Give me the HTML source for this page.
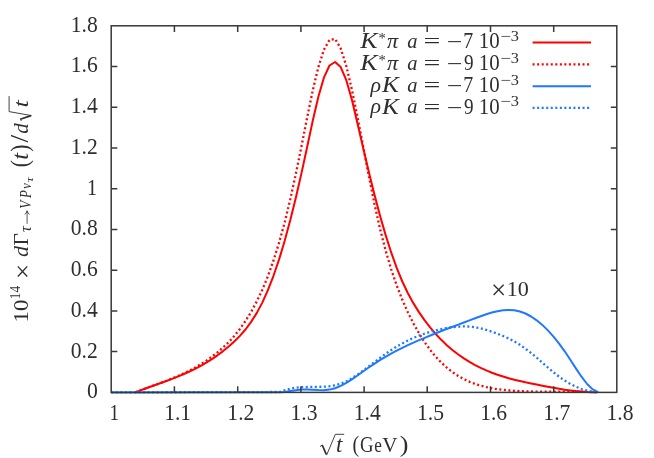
<!DOCTYPE html>
<html><head><meta charset="utf-8"><title>plot</title>
<style>html,body{margin:0;padding:0;background:#fff;}svg{display:block;}text{font-family:"Liberation Serif",serif;fill:#2e2e2e;}.i{font-style:italic;}</style></head><body>
<svg width="654" height="458" viewBox="0 0 654 458" style="will-change:transform">
<rect x="0" y="0" width="654" height="458" fill="#ffffff"/>
<g fill="none" stroke-linejoin="round">
<path d="M135.4,392.3 L139.1,390.9 L144.7,388.8 L150.3,386.7 L155.9,384.7 L161.5,382.7 L167.1,380.7 L172.7,378.6 L178.3,376.4 L183.9,374.0 L189.5,371.5 L195.1,368.8 L200.7,365.9 L206.3,362.7 L211.9,359.1 L217.5,355.3 L223.1,351.1 L228.7,346.5 L234.3,341.5 L239.9,335.9 L245.5,329.5 L251.1,321.9 L256.7,313.1 L262.3,302.6 L267.9,290.2 L273.5,275.8 L279.1,259.4 L284.7,240.7 L290.3,220.1 L295.9,197.5 L301.5,173.1 L307.1,147.3 L312.7,121.0 L318.3,97.0 L323.9,77.7 L329.5,65.5 L335.1,62.0 L340.7,67.1 L346.3,80.2 L351.9,99.8 L357.5,123.4 L363.1,147.8 L368.7,171.6 L374.3,194.1 L379.9,215.2 L385.5,234.6 L391.1,252.2 L396.7,267.9 L402.3,281.5 L407.9,293.2 L413.5,303.4 L419.1,312.4 L424.7,320.4 L430.3,327.6 L435.9,334.2 L441.5,340.1 L447.1,345.4 L452.7,350.2 L458.3,354.5 L463.9,358.4 L469.5,361.9 L475.1,365.1 L480.7,367.9 L486.3,370.4 L491.9,372.7 L497.5,374.7 L503.1,376.5 L508.7,378.2 L514.3,379.7 L519.9,381.0 L525.5,382.3 L531.1,383.4 L536.7,384.6 L542.3,385.7 L547.9,386.8 L553.5,387.8 L559.1,388.8 L564.7,389.7 L570.3,390.4 L575.9,391.1 L581.5,391.6 L587.1,392.0 L592.7,392.2 L597.4,392.2" stroke="#ff0000" stroke-width="2"/>
<path d="M135.4,392.3 L139.1,390.9 L144.7,388.8 L150.3,386.7 L155.9,384.7 L161.5,382.6 L167.1,380.5 L172.7,378.2 L178.3,375.9 L183.9,373.3 L189.5,370.6 L195.1,367.6 L200.7,364.3 L206.3,360.6 L211.9,356.7 L217.5,352.3 L223.1,347.5 L228.7,342.1 L234.3,335.9 L239.9,329.0 L245.5,321.0 L251.1,312.0 L256.7,301.6 L262.3,289.8 L267.9,276.2 L273.5,260.5 L279.1,242.7 L284.7,222.3 L290.3,199.2 L295.9,173.6 L301.5,146.2 L307.1,117.8 L312.7,90.7 L318.3,67.3 L323.9,49.8 L329.5,39.9 L335.1,39.0 L340.7,48.3 L346.3,66.0 L351.9,89.7 L357.5,117.0 L363.1,146.1 L368.7,175.3 L374.3,203.2 L379.9,228.3 L385.5,250.1 L391.1,269.1 L396.7,285.5 L402.3,299.8 L407.9,312.4 L413.5,323.5 L419.1,333.5 L424.7,342.3 L430.3,350.1 L435.9,356.9 L441.5,362.8 L447.1,367.9 L452.7,372.3 L458.3,376.0 L463.9,379.1 L469.5,381.8 L475.1,383.9 L480.7,385.7 L486.3,387.1 L491.9,388.3 L497.5,389.2 L503.1,389.8 L508.7,390.4 L514.3,390.8 L519.9,391.1 L525.5,391.4 L531.1,391.5 L536.7,391.6 L542.3,391.7 L547.9,391.7 L553.5,391.7 L559.1,391.7 L564.7,391.7 L570.3,391.7 L575.9,391.7 L581.5,391.8 L587.1,391.9 L592.7,392.0 L597.0,392.2" stroke="#ff0000" stroke-width="2.3" stroke-dasharray="2.0 2.54"/>
<path d="M111.2,392.4 L280.2,392.2 L284.7,391.9 L290.3,391.1 L295.9,390.3 L301.5,389.6 L307.1,389.5 L312.7,389.7 L318.3,390.1 L323.9,390.2 L329.5,389.6 L335.1,388.2 L340.7,385.9 L346.3,382.9 L351.9,379.3 L357.5,375.5 L363.1,371.5 L368.7,367.5 L374.3,363.8 L379.9,360.2 L385.5,356.9 L391.1,353.7 L396.7,350.7 L402.3,347.9 L407.9,345.2 L413.5,342.6 L419.1,340.2 L424.7,337.8 L430.3,335.5 L435.9,333.2 L441.5,331.0 L447.1,328.8 L452.7,326.7 L458.3,324.6 L463.9,322.5 L469.5,320.4 L475.1,318.3 L480.7,316.2 L486.3,314.2 L491.9,312.5 L497.5,311.2 L503.1,310.3 L508.7,309.9 L514.3,310.3 L519.9,311.5 L525.5,313.5 L531.1,316.5 L536.7,320.3 L542.3,324.9 L547.9,330.4 L553.5,336.6 L559.1,343.6 L564.7,351.3 L570.3,359.7 L575.9,368.4 L581.5,376.7 L587.1,384.0 L592.7,389.4 L598.2,392.2" stroke="#1f78ff" stroke-width="2"/>
<path d="M111.2,392.4 L280.2,392.0 L284.7,390.2 L290.3,388.7 L295.9,387.7 L301.5,387.2 L307.1,387.0 L312.7,386.9 L318.3,386.8 L323.9,386.7 L329.5,386.2 L335.1,385.3 L340.7,383.8 L346.3,381.4 L351.9,378.3 L357.5,374.6 L363.1,370.6 L368.7,366.4 L374.3,362.2 L379.9,358.0 L385.5,353.9 L391.1,350.1 L396.7,346.6 L402.3,343.4 L407.9,340.5 L413.5,337.9 L419.1,335.6 L424.7,333.6 L430.3,331.8 L435.9,330.3 L441.5,329.0 L447.1,327.9 L452.7,327.1 L458.3,326.6 L463.9,326.4 L469.5,326.6 L475.1,327.3 L480.7,328.4 L486.3,329.9 L491.9,331.7 L497.5,333.7 L503.1,336.0 L508.7,338.5 L514.3,341.4 L519.9,344.8 L525.5,348.7 L531.1,353.0 L536.7,357.7 L542.3,362.6 L547.9,367.5 L553.5,372.3 L559.1,376.7 L564.7,380.6 L570.3,383.9 L575.9,386.7 L581.5,389.0 L587.1,390.7 L592.7,391.8 L597.4,392.2" stroke="#1f78ff" stroke-width="2.3" stroke-dasharray="2.0 2.54"/>
<path d="M532.6,42.50 H591.0" stroke="#ff0000" stroke-width="2"/>
<path d="M532.6,64.35 H591.0" stroke="#ff0000" stroke-width="2.3" stroke-dasharray="2.0 2.54"/>
<path d="M532.6,86.35 H591.0" stroke="#1f78ff" stroke-width="2"/>
<path d="M532.6,107.90 H591.0" stroke="#1f78ff" stroke-width="2.3" stroke-dasharray="2.0 2.54"/>
</g>
<g fill="none" stroke="#383838" stroke-width="1.5">
<rect x="111.2" y="25.8" width="505.6" height="366.6"/>
<path d="M174.4,392.4 v-6.1 M174.4,25.8 v6.1 M237.7,392.4 v-6.1 M237.7,25.8 v6.1 M300.9,392.4 v-6.1 M300.9,25.8 v6.1 M364.1,392.4 v-6.1 M364.1,25.8 v6.1 M427.2,392.4 v-6.1 M427.2,25.8 v6.1 M490.5,392.4 v-6.1 M490.5,25.8 v6.1 M553.7,392.4 v-6.1 M553.7,25.8 v6.1 M111.2,351.6 h6.1 M616.9,351.6 h-6.1 M111.2,310.9 h6.1 M616.9,310.9 h-6.1 M111.2,270.2 h6.1 M616.9,270.2 h-6.1 M111.2,229.4 h6.1 M616.9,229.4 h-6.1 M111.2,188.7 h6.1 M616.9,188.7 h-6.1 M111.2,148.0 h6.1 M616.9,148.0 h-6.1 M111.2,107.3 h6.1 M616.9,107.3 h-6.1 M111.2,66.5 h6.1 M616.9,66.5 h-6.1"/>
</g>
<g>
<text transform="translate(86.92,398.25) scale(1.005,1.047)" font-size="21.6">0</text>
<text transform="translate(70.73,357.52) scale(1.000,1.047)" font-size="21.6">0.2</text>
<text transform="translate(70.73,316.79) scale(1.000,1.047)" font-size="21.6">0.4</text>
<text transform="translate(70.73,276.07) scale(1.000,1.047)" font-size="21.6">0.6</text>
<text transform="translate(70.73,235.34) scale(1.000,1.047)" font-size="21.6">0.8</text>
<text transform="translate(87.12,194.61) scale(0.938,1.027)" font-size="21.6">1</text>
<text transform="translate(70.71,153.88) scale(1.000,1.047)" font-size="21.6">1.2</text>
<text transform="translate(70.71,113.16) scale(1.000,1.047)" font-size="21.6">1.4</text>
<text transform="translate(70.71,72.43) scale(1.000,1.047)" font-size="21.6">1.6</text>
<text transform="translate(70.71,31.70) scale(1.000,1.047)" font-size="21.6">1.8</text>
<text transform="translate(109.45,419.90) scale(0.889,1.027)" font-size="21.6">1</text>
<text transform="translate(164.16,419.90) scale(1.000,1.027)" font-size="21.6">1.1</text>
<text transform="translate(227.36,419.90) scale(1.000,1.027)" font-size="21.6">1.2</text>
<text transform="translate(290.56,419.90) scale(1.000,1.027)" font-size="21.6">1.3</text>
<text transform="translate(353.76,419.90) scale(1.000,1.027)" font-size="21.6">1.4</text>
<text transform="translate(416.96,419.90) scale(1.000,1.027)" font-size="21.6">1.5</text>
<text transform="translate(480.16,419.90) scale(1.000,1.027)" font-size="21.6">1.6</text>
<text transform="translate(543.36,419.90) scale(1.000,1.027)" font-size="21.6">1.7</text>
<text transform="translate(606.56,419.90) scale(1.000,1.027)" font-size="21.6">1.8</text>
<text transform="translate(491.09,299.00) scale(1.251,1.244)" font-size="21.6">×</text>
<text transform="translate(506.67,296.40) scale(1.024,1.013)" font-size="21.6">10</text>
<text class="i" transform="translate(360.31,47.90) scale(1.204,1.079)" font-size="21.6">K</text>
<text transform="translate(378.42,42.90) scale(1.037,1.000)" font-size="14.0">*</text>
<text class="i" transform="translate(386.90,47.60) scale(1.037,1.000)" font-size="21.6">π</text>
<text class="i" transform="translate(407.28,47.60) scale(0.950,1.000)" font-size="21.6">a</text>
<text transform="translate(423.50,48.30) scale(1.383,1.000)" font-size="21.6">=</text>
<text transform="translate(446.80,48.90) scale(1.284,1.000)" font-size="21.6">−</text>
<text transform="translate(463.36,47.90) scale(0.922,1.058)" font-size="21.6">7</text>
<text transform="translate(478.77,47.90) scale(0.967,1.034)" font-size="21.6">10</text>
<text transform="translate(500.21,40.50) scale(1.283,1.000)" font-size="14.8">−</text>
<text transform="translate(510.63,40.50) scale(1.105,0.975)" font-size="14.8">3</text>
<text class="i" transform="translate(360.31,70.00) scale(1.204,1.079)" font-size="21.6">K</text>
<text transform="translate(378.42,65.00) scale(1.037,1.000)" font-size="14.0">*</text>
<text class="i" transform="translate(386.90,69.70) scale(1.037,1.000)" font-size="21.6">π</text>
<text class="i" transform="translate(407.28,69.70) scale(0.950,1.000)" font-size="21.6">a</text>
<text transform="translate(423.50,70.40) scale(1.383,1.000)" font-size="21.6">=</text>
<text transform="translate(446.80,71.00) scale(1.284,1.000)" font-size="21.6">−</text>
<text transform="translate(464.00,70.00) scale(0.889,1.034)" font-size="21.6">9</text>
<text transform="translate(478.77,70.00) scale(0.967,1.034)" font-size="21.6">10</text>
<text transform="translate(500.21,62.60) scale(1.283,1.000)" font-size="14.8">−</text>
<text transform="translate(510.63,62.60) scale(1.105,0.975)" font-size="14.8">3</text>
<text class="i" transform="translate(370.58,91.70) scale(1.013,1.000)" font-size="21.6">ρ</text>
<text class="i" transform="translate(382.00,92.00) scale(1.173,1.079)" font-size="21.6">K</text>
<text class="i" transform="translate(407.28,91.70) scale(0.950,1.000)" font-size="21.6">a</text>
<text transform="translate(423.50,92.40) scale(1.383,1.000)" font-size="21.6">=</text>
<text transform="translate(446.80,93.00) scale(1.284,1.000)" font-size="21.6">−</text>
<text transform="translate(463.36,92.00) scale(0.922,1.058)" font-size="21.6">7</text>
<text transform="translate(478.77,92.00) scale(0.967,1.034)" font-size="21.6">10</text>
<text transform="translate(500.21,84.60) scale(1.283,1.000)" font-size="14.8">−</text>
<text transform="translate(510.63,84.60) scale(1.105,0.975)" font-size="14.8">3</text>
<text class="i" transform="translate(370.58,113.20) scale(1.013,1.000)" font-size="21.6">ρ</text>
<text class="i" transform="translate(382.00,113.50) scale(1.173,1.079)" font-size="21.6">K</text>
<text class="i" transform="translate(407.28,113.20) scale(0.950,1.000)" font-size="21.6">a</text>
<text transform="translate(423.50,113.90) scale(1.383,1.000)" font-size="21.6">=</text>
<text transform="translate(446.80,114.50) scale(1.284,1.000)" font-size="21.6">−</text>
<text transform="translate(464.00,113.50) scale(0.889,1.034)" font-size="21.6">9</text>
<text transform="translate(478.77,113.50) scale(0.967,1.034)" font-size="21.6">10</text>
<text transform="translate(500.21,106.10) scale(1.283,1.000)" font-size="14.8">−</text>
<text transform="translate(510.63,106.10) scale(1.105,0.975)" font-size="14.8">3</text>
<text class="i" transform="translate(336.08,452.40) scale(1.070,1.089)" font-size="21.6">t</text>
<text transform="translate(352.38,452.20) scale(0.922,1.060)" font-size="21.6">(</text>
<text transform="translate(359.91,452.20) scale(0.868,1.027)" font-size="21.6">G</text>
<text transform="translate(374.26,452.20) scale(0.794,1.000)" font-size="21.6">e</text>
<text transform="translate(382.30,452.20) scale(0.979,1.016)" font-size="21.6">V</text>
<text transform="translate(399.79,452.20) scale(1.203,1.060)" font-size="21.6">)</text>
<path d="M320.0,446.5 L322.3,445.2" fill="none" stroke="#2e2e2e" stroke-width="0.9"/>
<path d="M322.2,445.0 L326.3,454.4" fill="none" stroke="#2e2e2e" stroke-width="1.7"/>
<path d="M326.6,455.2 L335.3,434.3 H344.2" fill="none" stroke="#2e2e2e" stroke-width="0.9"/>
</g>
<g transform="translate(28.0,320.0) rotate(-90)">
<text transform="translate(-2.38,0.00) scale(1.055,0.985)" font-size="21.6">10</text>
<text transform="translate(20.87,-7.70) scale(0.895,1.006)" font-size="14.8">14</text>
<text transform="translate(40.85,2.50) scale(1.273,1.194)" font-size="21.6">×</text>
<text class="i" transform="translate(62.96,0.00) scale(1.019,0.981)" font-size="21.6">d</text>
<text transform="translate(74.56,0.00) scale(0.993,0.974)" font-size="21.6">Γ</text>
<text class="i" transform="translate(88.05,3.10) scale(1.099,1.081)" font-size="14.8">τ</text>
<text class="i" transform="translate(111.27,3.10) scale(0.905,1.060)" font-size="14.8">V</text>
<text class="i" transform="translate(122.10,3.10) scale(0.854,1.060)" font-size="14.8">P</text>
<text class="i" transform="translate(131.20,3.10) scale(0.850,0.951)" font-size="14.8">ν</text>
<text class="i" transform="translate(137.79,4.90) scale(1.247,0.991)" font-size="11.5">τ</text>
<text transform="translate(152.63,0.00) scale(0.988,1.133)" font-size="21.6">(</text>
<text class="i" transform="translate(160.23,0.00) scale(1.136,1.049)" font-size="21.6">t</text>
<text transform="translate(168.23,0.00) scale(0.993,1.133)" font-size="21.6">)</text>
<text transform="translate(177.60,0.00) scale(1.284,1.185)" font-size="21.6">/</text>
<text class="i" transform="translate(186.27,0.00) scale(0.972,0.981)" font-size="21.6">d</text>
<text class="i" transform="translate(212.38,0.00) scale(1.218,0.945)" font-size="21.6">t</text>
<path d="M96.2,-0.9 H108.8 M105.6,-3.4 Q106.6,-1.4 109.3,-0.9 Q106.6,-0.4 105.6,1.6" fill="none" stroke="#2e2e2e" stroke-width="0.8"/>
<path d="M198.9,-6.6 L200.8,-7.7" fill="none" stroke="#2e2e2e" stroke-width="0.9"/>
<path d="M200.8,-7.7 L204.4,3.0" fill="none" stroke="#2e2e2e" stroke-width="1.7"/>
<path d="M204.4,3.6 L208.4,-18.9 H223.9" fill="none" stroke="#2e2e2e" stroke-width="0.9"/>
</g>
</svg></body></html>
